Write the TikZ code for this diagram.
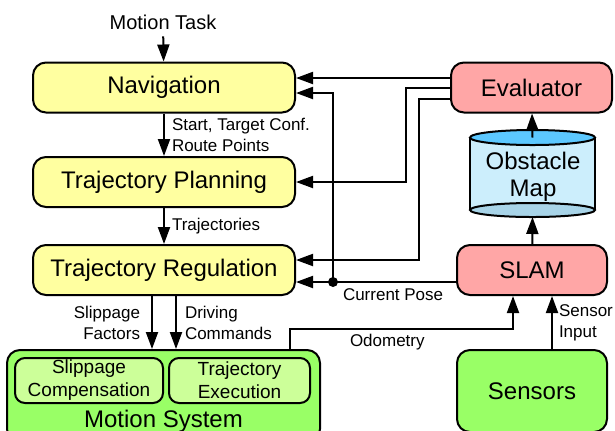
\documentclass[tikz,border=0pt]{standalone}
\usepackage{fontspec}
\setmainfont{Liberation Sans}
\usetikzlibrary{arrows.meta,calc}

\definecolor{boxyellow}{HTML}{FFFFA0}
\definecolor{boxred}{HTML}{FFA6A6}
\definecolor{boxgreen}{HTML}{99FF66}
\definecolor{subgreen}{HTML}{CCFF99}
\definecolor{mapbody}{HTML}{CCEEFC}
\definecolor{maptopfill}{HTML}{5CC8FF}
\definecolor{mapbottomfill}{HTML}{A8D4E8}

\begin{document}
\begin{tikzpicture}[x=0.5pt, y=-0.5pt, line width=1pt,
  arr/.style={-{Triangle[length=8.5pt,width=6pt]}},
  block/.style={draw, rounded corners=6.5pt, inner sep=0pt, align=center,
    font=\fontsize{12}{13.5}\selectfont},
  yellowbox/.style={block, fill=boxyellow, minimum width=131pt, minimum height=25pt},
  redbox/.style={block, fill=boxred, minimum height=25pt},
  greenbox/.style={block, fill=boxgreen},
  subbox/.style={block, fill=subgreen, rounded corners=5pt, minimum height=22.5pt,
    font=\fontsize{9.5}{11.5}\selectfont},
  lbl/.style={inner sep=0pt, font=\fontsize{8.5}{10.25}\selectfont}]
  \clip (0,0) rectangle (615,430);
  % Planning chain
  \node[inner sep=3pt, font=\fontsize{10}{12}\selectfont] (task) at (163,22) {Motion Task};
  \node[yellowbox] (nav) at (164,87.5) {Navigation};
  \node[yellowbox] (plan) at (164,182) {Trajectory Planning};
  \node[yellowbox] (reg) at (164,270) {Trajectory Regulation};
  % Motion system with its two parts
  \node[greenbox, minimum width=156.5pt, minimum height=46pt] (motion) at (163.5,396) {};
  \node[anchor=base, font=\fontsize{12}{13.5}\selectfont] (motiontext) at (163.5,427) {Motion System};
  \node[subbox, minimum width=74pt] (slip) at (89,380.5) {Slippage\\Compensation};
  \node[subbox, minimum width=70.5pt] (exec) at (239.5,380.5) {Trajectory\\Execution};
  % Right column
  \node[redbox, minimum width=80.5pt] (eval) at (531.5,87.5) {Evaluator};
  \node[redbox, minimum width=75pt] (slam) at (532,270) {SLAM};
  \node[greenbox, minimum width=75pt, minimum height=41pt] (sensors) at (532,391) {Sensors};
  % Obstacle map (cylinder)
  \fill[mapbody] (470,137.5) rectangle (595,210);
  \draw[fill=mapbottomfill] (532.5,210) ellipse [x radius=62.5, y radius=7];
  \draw (470,137.5) -- (470,210) (595,137.5) -- (595,210);
  \draw[fill=maptopfill] (532.5,137.5) ellipse [x radius=62.5, y radius=7.5];
  \coordinate (maptop) at (532.5,137.5);
  \coordinate (mapbottom) at (532.5,217);
  \node[inner sep=0pt, align=center, font=\fontsize{12}{13.5}\selectfont] (map) at (533,177) {Obstacle\\Map};
  % Downward flow
  \draw[arr] (task) -- (nav);
  \draw[arr] (nav) -- (plan);
  \node[lbl, align=left, anchor=west] (navlbl) at (171,135) {Start, Target Conf.\\Route Points};
  \draw[arr] (plan) -- (reg);
  \node[lbl, anchor=west] (planlbl) at (171,226) {Trajectories};
  \draw[arr] ($(reg.south)+(-12,0)$) -- ($(motion.north)+(-11.5,0)$);
  \draw[arr] ($(reg.south)+(12,0)$) -- ($(motion.north)+(12.5,0)$);
  \node[lbl, align=right, anchor=east] (sliplbl) at (141,323) {Slippage\\Factors};
  \node[lbl, align=left, anchor=west] (drivelbl) at (184,323) {Driving\\Commands};
  % Sensor side
  \draw[arr] ($(motion.north)+(126.5,0)$) -- ++(0,-20) -| ($(slam.south)+(-19,0)$);
  \node[lbl, anchor=west] (odolbl) at (349,342) {Odometry};
  \draw[arr] ($(sensors.north)+(20,0)$) -- ($(slam.south)+(20,0)$);
  \node[lbl, align=left, anchor=west] (senslbl) at (558,323) {Sensor\\Input};
  \draw[arr] (slam) -- (mapbottom);
  \draw[arr] (maptop) -- (eval);
  % Feedback to the planning chain
  \coordinate (pose) at (333,282);
  \draw[arr] ($(slam.west)+(0,12)$) -- ($(reg.east)+(0,12)$);
  \draw[arr] (pose) |- ($(nav.east)+(0,5.5)$);
  \fill (pose) circle (2.5pt);
  \node[lbl, anchor=west] (poselbl) at (342,295) {Current Pose};
  \draw[arr] ($(eval.west)+(0,-9.5)$) -- ($(nav.east)+(0,-9.5)$);
  \draw[arr] (eval.west) -- ++(-44,0) |- (plan.east);
  \draw[arr] ($(eval.west)+(0,11.5)$) -- ++(-31,0) |- ($(reg.east)+(0,-10)$);
\end{tikzpicture}
\end{document}
